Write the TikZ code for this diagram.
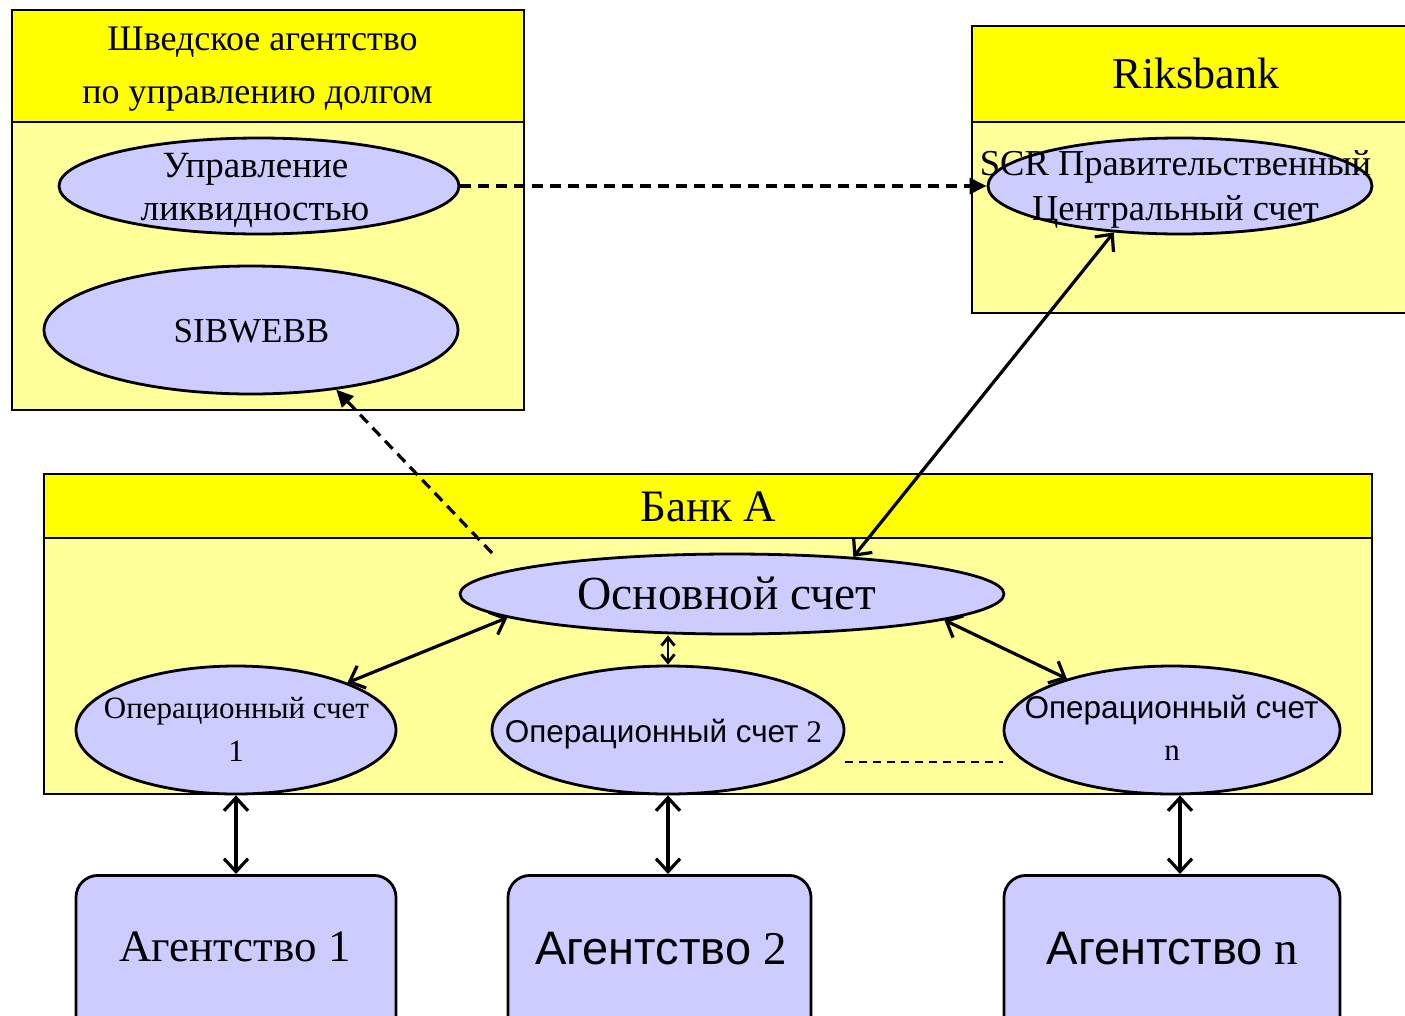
\documentclass[tikz,border=0pt]{standalone}
\usepackage{fontspec}
\setmainfont{Liberation Serif}
\newfontfamily\arial{Liberation Sans}
\usetikzlibrary{arrows.meta,shapes.geometric}
\definecolor{hdr}{RGB}{255,255,0}
\definecolor{bodyc}{RGB}{255,255,153}
\definecolor{lav}{RGB}{204,204,255}
\newcommand\fsz[1]{\fontsize{#1}{#1}\selectfont}
\begin{document}
\begin{tikzpicture}[x=1pt,y=-1pt,
  boxline/.style={draw=black, line width=2.8pt},
  ell/.style={ellipse, draw=black, fill=lav, line width=2.8pt, inner sep=0pt},
  agbox/.style={draw=black, fill=lav, line width=2.8pt, rounded corners=22pt, inner sep=0pt},
  txt/.style={inner sep=0pt, anchor=base},
  dbl/.style={line width=3.2pt, {Straight Barb[length=13pt,width=24pt,line width=3.2pt]}-{Straight Barb[length=13pt,width=24pt,line width=3.2pt]}},
  dblsmall/.style={line width=2.8pt, {Straight Barb[length=8pt,width=13pt]}-{Straight Barb[length=8pt,width=13pt]}},
  dsh/.style={line width=3.2pt, dash pattern=on 11pt off 7pt, -{Triangle[length=17pt,width=16pt]}},
]
\useasboundingbox (0,0) rectangle (1405,1015);
\fill[white] (0,0) rectangle (1405,1015);

% Swedish debt office
\fill[bodyc] (12,122) rectangle (524,410);
\fill[hdr] (12,10) rectangle (524,122);
\draw[boxline] (12,10) rectangle (524,410);
\draw[boxline] (12,122) -- (524,122);
\node[txt] (h1) at (262.5,50) {\fsz{36}Шведское агентство};
\node[txt] (h2) at (257.5,103) {\fsz{36}по управлению долгом};

% Riksbank
\fill[bodyc] (972,122) rectangle (1412,313);
\fill[hdr] (972,26) rectangle (1412,122);
\draw[boxline] (1412,26) -- (972,26) -- (972,313) -- (1412,313);
\draw[boxline] (972,122) -- (1412,122);
\node[txt] (rb) at (1196,88) {\fsz{44}Riksbank};

% Bank A
\fill[bodyc] (44,538) rectangle (1372,794);
\fill[hdr] (44,474) rectangle (1372,538);
\draw[boxline] (44,474) rectangle (1372,794);
\draw[boxline] (44,538) -- (1372,538);
\node[txt] (ba) at (708,521) {\fsz{45}Банк A};

% ellipses
\node[ell, minimum width=400pt, minimum height=96pt] (upr) at (259,186) {};
\node[txt] at (255.5,177) {\fsz{37}Управление};
\node[txt] at (255,220) {\fsz{37}ликвидностью};

\node[ell, minimum width=414pt, minimum height=128pt] (sib) at (251,330) {};
\node[txt] at (251.5,342) {\fsz{35}SIBWEBB};

\node[ell, minimum width=384pt, minimum height=96pt] (scr) at (1180,186) {};
\node[txt] at (1175.5,175) {\fsz{36.5}SCR Правительственный};
\node[txt] at (1175.5,220) {\fsz{36.5}Центральный счет};

\node[ell, minimum width=544pt, minimum height=80pt] (osn) at (732,594) {};
\node[txt] at (727,609) {\fsz{47.5}Основной счет};

\node[ell, minimum width=320pt, minimum height=128pt] (op1) at (236,730) {};
\node[txt] at (236.5,718) {\fsz{31}Операционный счет};
\node[txt] at (236,761) {\fsz{31}1};

\node[ell, minimum width=352pt, minimum height=128pt] (op2) at (668,730) {};
\node[txt] at (663.5,742) {\fsz{31.5}{\arial Операционный счет} 2};

\node[ell, minimum width=336pt, minimum height=128pt] (opn) at (1172,730) {};
\node[txt] at (1171.5,718) {\fsz{31.5}\arial Операционный счет};
\node[txt] at (1172,760) {\fsz{31}n};

% agencies
\node[agbox, minimum width=320pt, minimum height=170pt, anchor=north] (ag1) at (236,874) {};
\node[agbox, minimum width=303pt, minimum height=170pt, anchor=north] (ag2) at (659.5,874) {};
\node[agbox, minimum width=336pt, minimum height=170pt, anchor=north] (agn) at (1172,874) {};
\node[txt] at (235,961) {\fsz{45}Агентство 1};
\node[txt] at (661,964) {\fsz{47}{\arial Агентство} 2};
\node[txt] at (1172.5,964) {\fsz{47}{\arial Агентство} n};

% connectors
\draw[dsh] (upr.east) -- (scr.west);
\coordinate (dstart) at (492,553);
\draw[dsh] (dstart) -- (sib.325);
\draw[dbl] (scr.215) -- (osn.17.8);
\draw[dbl] (osn.186.8) -- (op1.23);
\draw[dbl] (osn.353.9) -- (opn.154.5);
\draw[dblsmall] (op2.north |- osn.south) -- (op2.north);
\coordinate (d1) at (845,762);
\coordinate (d2) at (1003,762);
\draw[line width=2.8pt, dash pattern=on 8pt off 6pt] (d1) -- (d2);
\draw[dbl] (op1.south) -- (op1.south |- ag1.north);
\draw[dbl] (op2.south) -- (op2.south |- ag2.north);
\draw[dbl] ([xshift=8pt]opn.south) -- ([xshift=8pt]opn.south |- agn.north);
\end{tikzpicture}
\end{document}
